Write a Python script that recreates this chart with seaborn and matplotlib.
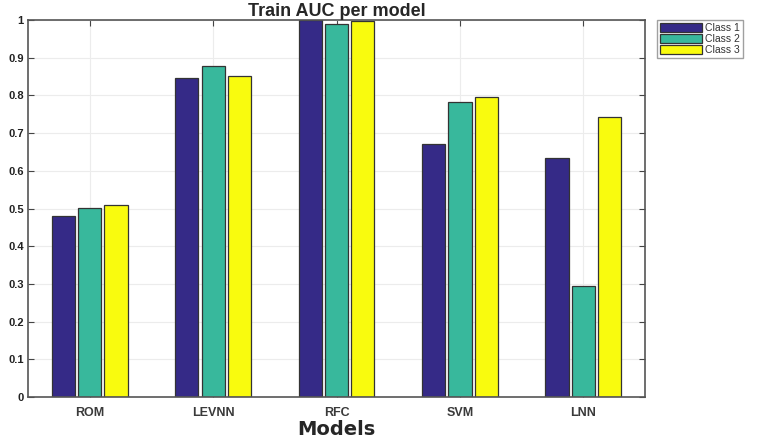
import matplotlib
matplotlib.use("Agg")
import matplotlib.pyplot as plt
import seaborn as sns
import pandas as pd

models = ['ROM', 'LEVNN', 'RFC', 'SVM', 'LNN']
classes = ['Class 1', 'Class 2', 'Class 3']
class1 = [0.479, 0.847, 1.000, 0.670, 0.633]
class2 = [0.502, 0.877, 0.990, 0.782, 0.295]
class3 = [0.510, 0.852, 0.998, 0.795, 0.744]
yticks = [0, 0.1, 0.2, 0.3, 0.4, 0.5, 0.6, 0.7, 0.8, 0.9, 1]
ytick_labels = ['0', '0.1', '0.2', '0.3', '0.4', '0.5', '0.6', '0.7', '0.8', '0.9', '1']

rows = []
for vals, c in zip([class1, class2, class3], classes):
    for m, v in zip(models, vals):
        rows.append({'Model': m, 'Class': c, 'AUC': v})
df = pd.DataFrame(rows)

sns.set_style('white')
plt.rcParams['font.family'] = ['Liberation Sans', 'DejaVu Sans']

fig = plt.figure(figsize=(7.61, 4.38), dpi=100)
ax = fig.add_axes([0.0368, 0.0936, 0.8108, 0.8606])

palette = ['#352a87', '#38b89c', '#f9fb0e']
sns.barplot(data=df, x='Model', y='AUC', hue='Class', palette=palette,
            width=0.64, gap=0.12, edgecolor='#333333', linewidth=0.9,
            saturation=1, ax=ax)

ax.set_xlim(-0.5, 4.5)
ax.set_ylim(0, 1)
ax.set_yticks(yticks)
ax.set_yticklabels(ytick_labels, fontsize=8, fontweight='bold', color='#222222')
ax.set_xticks(range(len(models)))
ax.set_xticklabels(models, fontsize=9, fontweight='bold', color='#3a3a3a')
ax.tick_params(axis='both', direction='in', length=4, color='#444444',
               top=True, right=True, bottom=True, left=True, pad=3)
ax.tick_params(axis='x', pad=7)
ax.set_axisbelow(True)
ax.grid(True, color='#ececec', linewidth=0.8)
for s in ax.spines.values():
    s.set_color('#555555')
    s.set_linewidth(1.2)

ax.set_ylabel('')
ax.set_xlabel('Models', fontsize=14, fontweight='bold', family='DejaVu Sans', labelpad=1)
ax.set_title('Train AUC per model', fontsize=13, fontweight='bold', pad=3)

leg = ax.legend(loc='upper left', bbox_to_anchor=(1.02, 1.0), fontsize=7.5,
                frameon=True, fancybox=False, edgecolor='#888888',
                handlelength=4.0, handleheight=0.9, handletextpad=0.3,
                borderpad=0.3, labelspacing=0.1, borderaxespad=0)
for t in leg.get_texts():
    t.set_color('#333333')

fig.savefig('out.png', dpi=100)
